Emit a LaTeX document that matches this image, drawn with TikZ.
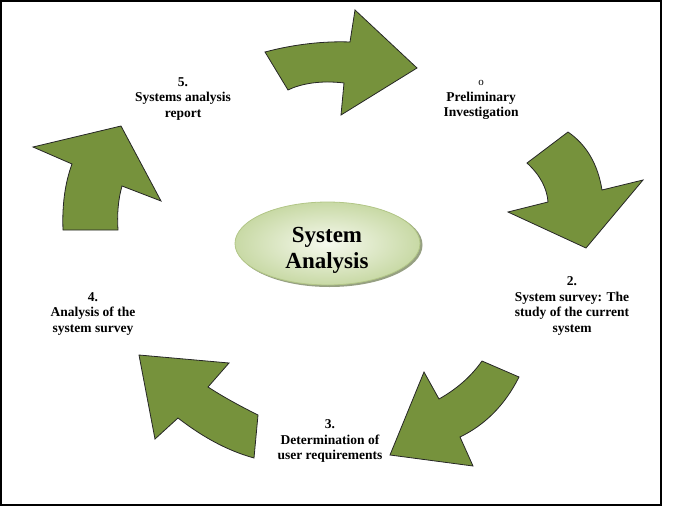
\documentclass[tikz,border=0pt]{standalone}
\usepackage{fontspec}
\setmainfont{Liberation Serif}
\usetikzlibrary{shadings}
\definecolor{olive}{RGB}{118,146,60}
\definecolor{ellA}{RGB}{246,249,238}
\definecolor{ellB}{RGB}{200,217,165}
\definecolor{ellEdge}{RGB}{178,198,135}
\definecolor{ellShadow}{RGB}{150,160,130}
\tikzset{
  cyclearrow/.style={fill=olive, draw=black!85, line width=0.8pt, line join=miter},
  lbl/.style={align=center, font=\fontsize{13.5}{15.5}\selectfont\bfseries, inner sep=0pt},
}
\begin{document}
\begin{tikzpicture}[x=1pt,y=-1pt]
\useasboundingbox (0,0) rectangle (683,509);
\draw[line width=2pt] (1,1) rectangle (661,505);
% arrows
\path[cyclearrow] (265,52) .. controls (295,44) and (325,41) .. (350,42) -- (355,10) -- (417,68) -- (341,115) -- (344,83) .. controls (320,80) and (300,84) .. (288,90) -- cycle;
\path[cyclearrow] (568,132) -- (527,163) .. controls (540,175) and (547,188) .. (548,202) -- (508,212) -- (586,248) -- (643,180) -- (602,190) .. controls (598,165) and (587,145) .. (568,132) -- cycle;
\path[cyclearrow] (482,361) -- (519,377) .. controls (505,405) and (485,425) .. (460,437) -- (473,466) -- (390,455) -- (424,372) -- (439,399) .. controls (455,390) and (470,378) .. (482,361) -- cycle;
\path[cyclearrow] (139,355) -- (229,363) -- (208,387) .. controls (225,398) and (242,407) .. (258,415) -- (254,458) .. controls (225,450) and (200,435) .. (178,418) -- (155,439) -- cycle;
\path[cyclearrow] (33,147) -- (121,126) -- (161,201) -- (122,186) .. controls (118,200) and (117,215) .. (118,230) -- (63,230) .. controls (62,205) and (65,183) .. (72,164) -- cycle;
% centre ellipse
\fill[ellShadow] (329.5,245) ellipse [x radius=93, y radius=42];
\shade[inner color=ellA, outer color=ellB, draw=ellEdge, line width=0.8pt] (327.5,243.5) ellipse [x radius=92.5, y radius=41.5];
\node[align=center, font=\fontsize{23}{26}\selectfont\bfseries, inner sep=0pt] (centre) at (327,250) {System\\Analysis};
% labels
\node[lbl] (l1) at (481,100) {{\fontsize{11}{12}\selectfont\mdseries o}\\Preliminary\\Investigation};
\node[lbl] (l2) at (572,306) {2.\\System survey: The\\study of the current\\system};
\node[lbl] (l3) at (330,441) {3.\\Determination of\\user requirements};
\node[lbl] (l4) at (93,314) {4.\\Analysis of the\\system survey};
\node[lbl] (l5) at (183,99) {5.\\Systems analysis\\report};
\end{tikzpicture}
\end{document}
